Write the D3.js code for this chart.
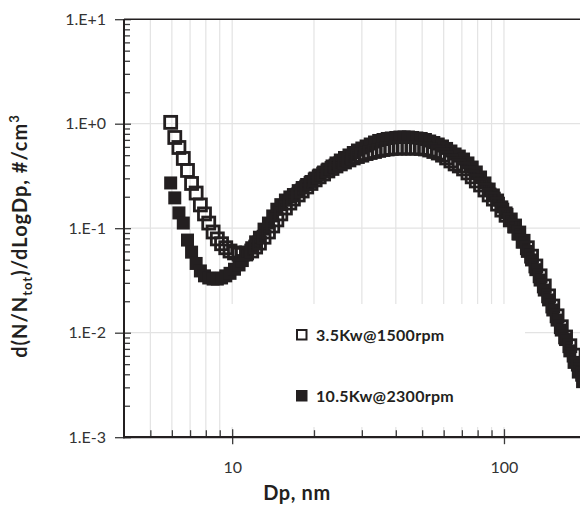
<!DOCTYPE html>
<html>
<head>
<meta charset="utf-8">
<script src="https://cdn.jsdelivr.net/npm/d3@7"></script>
<style>
  body { margin: 0; background: #fff; }
  svg { display: block; font-family: Lato, "Open Sans", sans-serif; }
</style>
</head>
<body>
<svg width="580" height="508"></svg>
<script>
// SMPS channel midpoints, nm
var diameters = [5.94, 6.15, 6.37, 6.61, 6.85, 7.09, 7.37, 7.64, 7.91, 8.20,
  8.51, 8.82, 9.14, 9.47, 9.82, 10.2, 10.6, 10.9, 11.3, 11.8,
  12.2, 12.6, 13.1, 13.6, 14.1, 14.6, 15.1, 15.7, 16.3, 16.8,
  17.5, 18.1, 18.8, 19.5, 20.2, 20.9, 21.7, 22.5, 23.3, 24.1,
  25.0, 25.9, 26.9, 27.9, 28.9, 30.0, 31.1, 32.2, 33.4, 34.6,
  35.9, 37.2, 38.5, 40.0, 41.4, 42.9, 44.5, 46.1, 47.8, 49.6,
  51.4, 53.3, 55.2, 57.3, 59.4, 61.5, 63.8, 66.1, 68.5, 71.0,
  73.7, 76.4, 79.1, 82.0, 85.1, 88.2, 91.4, 94.7, 98.2, 101.8,
  105.5, 109.4, 113.4, 117.6, 121.9, 126.3, 131.0, 135.8, 140.7, 145.9,
  151.2, 156.8, 162.5, 168.5, 174.7, 181.1, 187.7, 194.6];

var low_load = [1.03, 0.738, 0.592, 0.465, 0.357, 0.268, 0.217, 0.167, 0.137, 0.112,
  0.092, 0.079, 0.071, 0.065, 0.0605, 0.058, 0.0565, 0.0565, 0.058, 0.0605,
  0.066, 0.072, 0.082, 0.092, 0.105, 0.12, 0.137, 0.156, 0.174, 0.19,
  0.208, 0.227, 0.248, 0.268, 0.29, 0.31, 0.33, 0.353, 0.373, 0.394,
  0.412, 0.43, 0.45, 0.47, 0.485, 0.50, 0.518, 0.53, 0.542, 0.555,
  0.566, 0.573, 0.58, 0.585, 0.585, 0.585, 0.585, 0.585, 0.585, 0.58,
  0.573, 0.56, 0.542, 0.524, 0.50, 0.47, 0.44, 0.412, 0.394, 0.369,
  0.338, 0.31, 0.283, 0.259, 0.232, 0.208, 0.19, 0.17, 0.149, 0.133,
  0.12, 0.105, 0.09, 0.075, 0.065, 0.054, 0.0435, 0.035, 0.028, 0.0225,
  0.018, 0.0145, 0.0114, 0.0091, 0.0075, 0.0061, 0.005, 0.004];

var high_load = [0.271, 0.195, 0.140, 0.112, 0.077, 0.059, 0.046, 0.039, 0.035, 0.0334,
  0.0326, 0.0326, 0.0334, 0.035, 0.037, 0.0405, 0.0445, 0.049, 0.0555, 0.065,
  0.074, 0.082, 0.098, 0.112, 0.131, 0.152, 0.168, 0.186, 0.199, 0.210,
  0.229, 0.245, 0.262, 0.280, 0.302, 0.323, 0.345, 0.368, 0.394, 0.421,
  0.449, 0.475, 0.502, 0.530, 0.560, 0.585, 0.612, 0.639, 0.668, 0.691,
  0.706, 0.722, 0.730, 0.738, 0.746, 0.746, 0.746, 0.738, 0.730, 0.722,
  0.706, 0.683, 0.661, 0.639, 0.612, 0.58, 0.548, 0.513, 0.49, 0.459,
  0.421, 0.385, 0.345, 0.309, 0.271, 0.237, 0.208, 0.186, 0.16, 0.14,
  0.12, 0.103, 0.088, 0.074, 0.06, 0.0497, 0.0401, 0.0319, 0.0256, 0.0206,
  0.0165, 0.0132, 0.0106, 0.0086, 0.0067, 0.0052, 0.0042, 0.0034];

var series_names = ["3.5Kw@1500rpm", "10.5Kw@2300rpm"];
var y_ticks = [10, 1, 0.1, 0.01, 0.001];
var y_labels = ["1.E+1", "1.E+0", "1.E-1", "1.E-2", "1.E-3"];
var x_ticks = [10, 100];
var x_minor = [5, 6, 7, 8, 9, 20, 30, 40, 50, 60, 70, 80, 90, 200];
var x_grid = [5, 6, 7, 8, 9, 10, 20, 30, 40, 50, 60, 70, 80, 90, 100, 200];

var ink = "#231f20";
var svg = d3.select("svg");

var x = d3.scaleLog().domain([4, 200]).range([124, 585.8]);
var y = d3.scaleLog().domain([0.001, 10]).range([437.2, 19.2]);

var y_minor = [];
[0.001, 0.01, 0.1, 1].forEach(function(d) {
  for (var k = 2; k <= 9; k++) y_minor.push(d * k);
});

// grid
svg.append("g").selectAll("line")
  .data(x_grid).enter().append("line")
  .attr("x1", function(d) { return x(d); })
  .attr("x2", function(d) { return x(d); })
  .attr("y1", y(10)).attr("y2", y(0.001))
  .attr("stroke", "#e3e3e3").attr("stroke-width", 1.2);

svg.append("g").selectAll("line")
  .data([1, 0.1, 0.01]).enter().append("line")
  .attr("x1", x(4)).attr("x2", 580)
  .attr("y1", function(d) { return y(d); })
  .attr("y2", function(d) { return y(d); })
  .attr("stroke", "#e3e3e3").attr("stroke-width", 1.2);

// legend background hides grid
svg.append("rect")
  .attr("x", 221).attr("y", 304)
  .attr("width", 304).attr("height", 123)
  .attr("fill", "#fff");

// axes
svg.append("g")
  .attr("transform", "translate(" + x(4) + ",0)")
  .call(d3.axisLeft(y).tickValues(y_ticks).tickSize(9).tickPadding(9)
    .tickFormat(function(d, i) { return y_labels[i]; }));
svg.append("g")
  .attr("transform", "translate(" + x(4) + ",0)")
  .call(d3.axisLeft(y).tickValues(y_ticks).tickSize(-7).tickFormat(""));
svg.append("g")
  .attr("transform", "translate(" + x(4) + ",0)")
  .call(d3.axisLeft(y).tickValues(y_minor).tickSize(-6).tickFormat(""));

svg.append("g")
  .attr("transform", "translate(0," + y(0.001) + ")")
  .call(d3.axisBottom(x).tickValues(x_ticks).tickSize(7).tickPadding(17)
    .tickFormat(d3.format("d")));
svg.append("g")
  .attr("transform", "translate(0," + y(0.001) + ")")
  .call(d3.axisBottom(x).tickValues(x_ticks).tickSize(-8).tickFormat(""));
svg.append("g")
  .attr("transform", "translate(0," + y(0.001) + ")")
  .call(d3.axisBottom(x).tickValues(x_minor).tickSize(-7).tickFormat(""));

svg.selectAll(".domain").remove();
svg.selectAll(".tick line").attr("stroke", "#3c3c3c").attr("stroke-width", 1.3);
svg.selectAll(".tick text")
  .attr("fill", "#333").style("font-size", "16px")
  .style("font-family", "Lato, 'Open Sans', sans-serif");

svg.append("line")
  .attr("x1", x(4)).attr("x2", x(4))
  .attr("y1", y(10)).attr("y2", y(0.001) + 1)
  .attr("stroke", ink).attr("stroke-width", 2);
svg.append("line")
  .attr("x1", x(4) - 1).attr("x2", 580)
  .attr("y1", y(0.001)).attr("y2", y(0.001))
  .attr("stroke", ink).attr("stroke-width", 2.2);
svg.append("line")
  .attr("x1", x(4)).attr("x2", 580)
  .attr("y1", y(10)).attr("y2", y(10))
  .attr("stroke", ink).attr("stroke-width", 1.5);

// data
var filled = diameters.map(function(d, i) { return {dp: d, v: high_load[i]}; });
var hollow = diameters.map(function(d, i) { return {dp: d, v: low_load[i]}; });

svg.append("g").selectAll("rect")
  .data(filled).enter().append("rect")
  .attr("x", function(d) { return x(d.dp) - 6.5; })
  .attr("y", function(d) { return y(d.v) - 6.5; })
  .attr("width", 13).attr("height", 13)
  .attr("fill", ink);

svg.append("g").selectAll("rect")
  .data(hollow).enter().append("rect")
  .attr("x", function(d) { return x(d.dp) - 6; })
  .attr("y", function(d) { return y(d.v) - 6; })
  .attr("width", 12).attr("height", 12)
  .attr("fill", "none")
  .attr("stroke", ink).attr("stroke-width", 2.8);

// legend
var legend = svg.append("g");
legend.append("rect")
  .attr("x", 297).attr("y", 330).attr("width", 9.5).attr("height", 9.5)
  .attr("fill", "none").attr("stroke", ink).attr("stroke-width", 2);
legend.append("rect")
  .attr("x", 296).attr("y", 390).attr("width", 11.5).attr("height", 11.5)
  .attr("fill", ink);
legend.selectAll("text")
  .data(series_names).enter().append("text")
  .attr("x", 316)
  .attr("y", function(d, i) { return i === 0 ? 341 : 401.5; })
  .attr("fill", ink)
  .style("font-size", "16px").style("font-weight", "bold")
  .style("letter-spacing", "0.3px")
  .text(function(d) { return d; });

// axis titles
svg.append("text")
  .attr("x", 297).attr("y", 500)
  .attr("text-anchor", "middle")
  .attr("fill", ink)
  .style("font-size", "20px").style("font-weight", "bold")
  .style("letter-spacing", "0.6px")
  .text("Dp, nm");

var ytitle = svg.append("text")
  .attr("transform", "translate(27,236) rotate(-90)")
  .attr("text-anchor", "middle")
  .attr("fill", ink)
  .style("font-size", "20px").style("font-weight", "bold")
  .style("letter-spacing", "1px");
ytitle.append("tspan").text("d(N/N");
ytitle.append("tspan").attr("dy", 5).style("font-size", "13px").text("tot");
ytitle.append("tspan").attr("dy", -5).text(")/dLogDp, #/cm");
ytitle.append("tspan").attr("dy", -8).style("font-size", "13px").text("3");
</script>
</body>
</html>
